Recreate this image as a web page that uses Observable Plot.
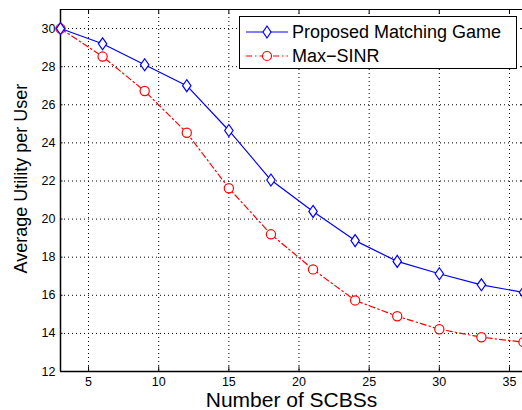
<!DOCTYPE html>
<html><head><meta charset="utf-8">
<script src="https://cdn.jsdelivr.net/npm/d3@7"></script>
<script src="https://cdn.jsdelivr.net/npm/@observablehq/plot@0.6"></script>
<style>
body{margin:0;background:#fff;font-family:"Liberation Sans",Arial,sans-serif;}
#wrap{position:relative;width:522px;height:410px;overflow:hidden;}
#legend{position:absolute;left:239px;top:16px;width:276px;height:51px;border:1.5px solid #000;background:#fff;font-size:18px;color:#000;}
.row{position:absolute;left:0;height:22px;display:flex;align-items:center;}
.row svg{margin-left:6px;margin-right:4px;}
</style></head><body>
<div id="wrap"><div id="chart"></div>
<div id="legend">
<div class="row" style="top:4px"><svg width="42" height="20"><line x1="0" y1="10" x2="42" y2="10" stroke="#0000ff" stroke-width="1.2"/><path d="M21,4 L25,10 L21,16 L17,10 Z" fill="#fff" stroke="#0000ff" stroke-width="1.2"/></svg><span>Proposed Matching Game</span></div>
<div class="row" style="top:28px"><svg width="42" height="20"><line x1="0" y1="10" x2="42" y2="10" stroke="#ff0000" stroke-width="1.2" stroke-dasharray="6,3,1.5,3"/><circle cx="21" cy="10" r="4.5" fill="#fff" stroke="#ff0000" stroke-width="1.2"/></svg><span>Max&#8722;SINR</span></div>
</div></div>
<script>
const scbs = [3, 6, 9, 12, 15, 18, 21, 24, 27, 30, 33, 36];
const proposed = [30, 29.2, 28.1, 27.0, 24.65, 22.05, 20.4, 18.87, 17.78, 17.13, 16.55, 16.15];
const maxSinr = [30, 28.53, 26.72, 24.53, 21.62, 19.2, 17.36, 15.73, 14.9, 14.22, 13.8, 13.54];
const xTicks = [5, 10, 15, 20, 25, 30, 35];
const yTicks = [12, 14, 16, 18, 20, 22, 24, 26, 28, 30];

const dProp = scbs.map((x, i) => ({x, y: proposed[i]}));
const dSinr = scbs.map((x, i) => ({x, y: maxSinr[i]}));

const tallDiamond = {draw(ctx, size){ const w = 4.2, h = 6; ctx.moveTo(0,-h); ctx.lineTo(w,0); ctx.lineTo(0,h); ctx.lineTo(-w,0); ctx.closePath(); }};

const chart = Plot.plot({
  width: 522, height: 410,
  marginLeft: 60, marginTop: 9, marginBottom: 39, marginRight: 0,
  style: {fontFamily: "'Liberation Sans', Arial, sans-serif", fontSize: "12px", color: "#000", background: "#fff", overflow: "visible"},
  x: {domain: [3, 36], range: [60, 523]},
  y: {domain: [12, 31]},
  marks: [
    Plot.ruleX(xTicks, {stroke: "#000", strokeDasharray: "1,3", strokeWidth: 1}),
    Plot.ruleY(yTicks, {stroke: "#000", strokeDasharray: "1,3", strokeWidth: 1}),
    Plot.ruleX(xTicks, {y1: 12, y2: 12.25, stroke: "#000"}),
    Plot.ruleX(xTicks, {y1: 31, y2: 30.75, stroke: "#000"}),
    Plot.ruleY(yTicks, {x1: 3, x2: 3.18, stroke: "#000"}),
    Plot.ruleY(yTicks, {x1: 36, x2: 35.82, stroke: "#000"}),
    Plot.axisX({ticks: xTicks, tickSize: 0, tickPadding: 6, label: null, fontSize: 12.5}),
    Plot.axisY({ticks: yTicks, tickSize: 0, tickPadding: 5, label: null, fontSize: 12.5}),
    Plot.ruleY([31], {stroke: "#000", strokeWidth: 1}),
    Plot.ruleX([3], {stroke: "#000", strokeWidth: 1.5}),
    Plot.ruleY([12], {stroke: "#000", strokeWidth: 1.5}),
    Plot.line(dSinr, {x: "x", y: "y", stroke: "#ff0000", strokeWidth: 1.2, strokeDasharray: "6,3,1.5,3"}),
    Plot.dot(dSinr, {x: "x", y: "y", r: 4.6, stroke: "#ff0000", fill: "#fff", strokeWidth: 1.2}),
    Plot.line(dProp, {x: "x", y: "y", stroke: "#0000ff", strokeWidth: 1.2}),
    Plot.dot(dProp, {x: "x", y: "y", symbol: () => tallDiamond, stroke: "#0000ff", fill: "#fff", strokeWidth: 1.2}),
    Plot.text(["Number of SCBSs"], {frameAnchor: "bottom", textAnchor: "middle", lineAnchor: "middle", dy: 29, fontSize: 21, fill: "#000"}),
    Plot.text(["Average Utility per User"], {frameAnchor: "left", textAnchor: "middle", lineAnchor: "middle", dx: -39, dy: -12, rotate: -90, fontSize: 18, fill: "#000"})
  ]
});
document.getElementById("chart").appendChild(chart);
</script>
</body></html>
